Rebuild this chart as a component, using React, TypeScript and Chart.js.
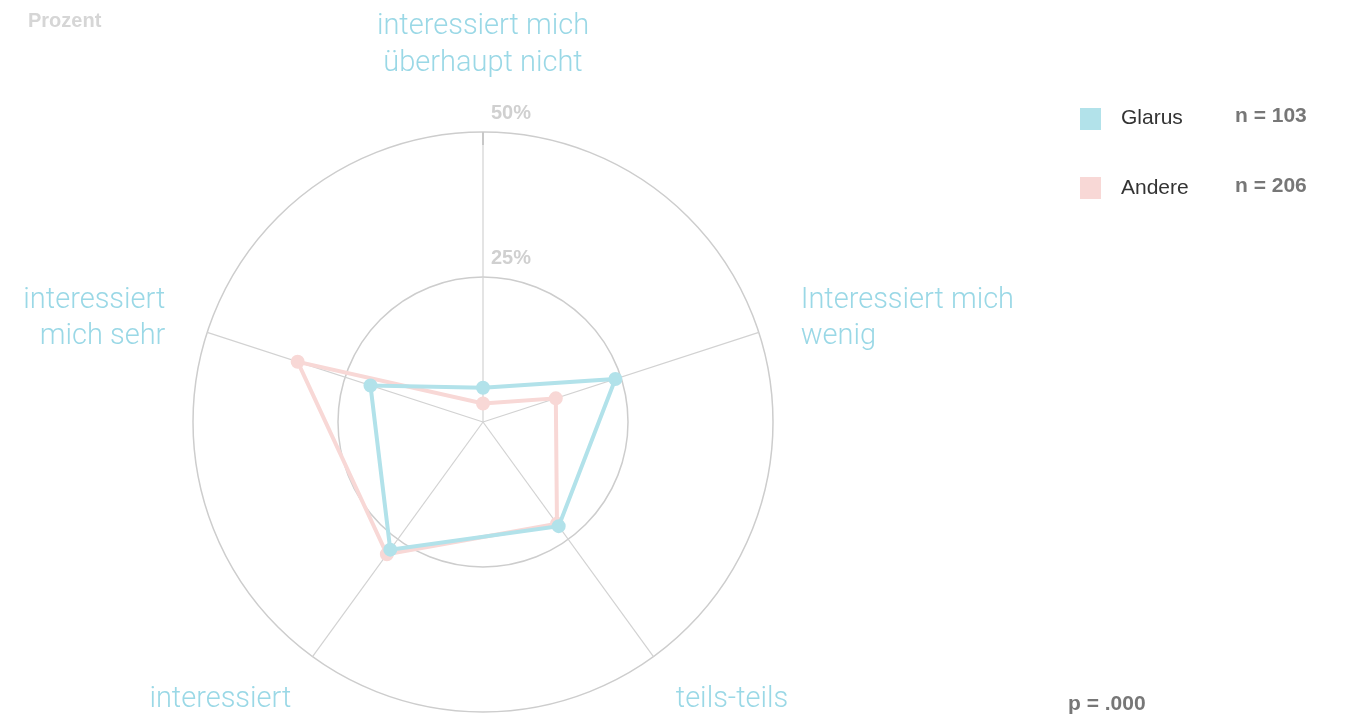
import React, { useEffect, useRef } from "react";
import { Chart, registerables } from "chart.js";

Chart.register(...registerables);

// ---- data ----
const categories: string[][] = [
  ["interessiert mich", "überhaupt nicht"],
  ["Interessiert mich", "wenig"],
  ["teils-teils"],
  ["interessiert"],
  ["interessiert", "mich sehr"],
];
const glarusValues = [5.9, 24.0, 22.2, 27.2, 20.4];
const andereValues = [3.2, 13.2, 21.7, 28.2, 33.6];
const seriesNames = ["Glarus", "Andere"];
const seriesN = ["n = 103", "n = 206"];
const tickValues = [25, 50];
const axisTitle = "Prozent";
const pValue = "p = .000";

// ---- styles ----
const BLUE = "#b2e2ea";
const PINK = "#f8d8d6";
const LABEL_COLOR = "#9ad8e6";
const LABEL_FONT = "300 29px Roboto, 'Liberation Sans', Arial, sans-serif";
const LABEL_LH = 36.5;
// per-label placement: extra distance from outer ring, first-baseline offset
const labelLayout = [
  { pad: 62, dy: -36 },
  { pad: 44, dy: -11 },
  { pad: 38, dy: 20 },
  { pad: 36, dy: 21 },
  { pad: 44, dy: -11 },
];

const labelPlugin = {
  id: "customLabels",
  afterDraw(chart: any) {
    const scale = chart.scales.r;
    const ctx = chart.ctx;
    ctx.save();
    // top tick mark
    ctx.strokeStyle = "#c8c8c8";
    ctx.lineWidth = 2;
    ctx.beginPath();
    ctx.moveTo(scale.xCenter, scale.yCenter - scale.drawingArea);
    ctx.lineTo(scale.xCenter, scale.yCenter - scale.drawingArea + 13);
    ctx.stroke();

    // tick labels
    ctx.font = "bold 20px 'Liberation Sans', Arial, sans-serif";
    ctx.fillStyle = "#d0d0d0";
    ctx.textAlign = "left";
    ctx.textBaseline = "alphabetic";
    tickValues.forEach((v) => {
      const r = scale.getDistanceFromCenterForValue(v);
      ctx.fillText(v + "%", scale.xCenter + 8, scale.yCenter - r - 13.5);
    });

    // point labels
    ctx.font = LABEL_FONT;
    ctx.fillStyle = LABEL_COLOR;
    categories.forEach((lines, i) => {
      const lay = labelLayout[i];
      const p = scale.getPointPosition(i, scale.drawingArea + lay.pad);
      let deg = Math.round(((p.angle + Math.PI / 2) * 180) / Math.PI) % 360;
      if (deg < 0) deg += 360;
      ctx.textAlign = deg === 0 || deg === 180 ? "center" : deg < 180 ? "left" : "right";
      lines.forEach((line, j) => {
        ctx.fillText(line, p.x, p.y + lay.dy + j * LABEL_LH);
      });
    });
    ctx.restore();
  },
};

export default function App() {
  const ref = useRef<HTMLCanvasElement | null>(null);
  useEffect(() => {
    if (!ref.current) return;
    const chart = new Chart(ref.current, {
      type: "radar",
      data: {
        labels: categories,
        datasets: [
          {
            label: seriesNames[0],
            data: glarusValues,
            borderColor: BLUE,
            backgroundColor: BLUE,
            pointBackgroundColor: BLUE,
            pointBorderColor: BLUE,
            borderWidth: 4,
            pointRadius: 5,
            fill: false,
          },
          {
            label: seriesNames[1],
            data: andereValues,
            borderColor: PINK,
            backgroundColor: PINK,
            pointBackgroundColor: PINK,
            pointBorderColor: PINK,
            borderWidth: 4,
            pointRadius: 5,
            fill: false,
          },
        ],
      },
      options: {
        responsive: false,
        animation: false,
        layout: { padding: { left: 193, top: 132, right: 578, bottom: 5 } },
        plugins: { legend: { display: false }, tooltip: { enabled: false } },
        scales: {
          r: {
            min: 0,
            max: 50,
            ticks: { stepSize: 25, display: false },
            grid: { circular: true, color: "#cdcdcd", lineWidth: 1.5 },
            angleLines: { color: "#d2d2d2", lineWidth: 1.2 },
            pointLabels: { display: false },
          },
        },
      },
      plugins: [labelPlugin],
    });
    return () => chart.destroy();
  }, []);

  const base: React.CSSProperties = {
    position: "absolute",
    fontFamily: "'Liberation Sans', Arial, sans-serif",
    fontSize: 21,
    lineHeight: "24px",
    whiteSpace: "nowrap",
  };

  return (
    <div style={{ position: "absolute", left: 0, top: 0, width: 1351, height: 718, background: "#fff", overflow: "hidden" }}>
      <canvas ref={ref} width={1351} height={718} style={{ position: "absolute", left: 0, top: 0 }} />
      <div style={{ ...base, left: 28, top: 8, fontSize: 20, fontWeight: "bold", color: "#d6d6d6" }}>{axisTitle}</div>
      <div style={{ position: "absolute", left: 1080, top: 108, width: 21, height: 22, background: BLUE }} />
      <div style={{ ...base, left: 1121, top: 105, color: "#333" }}>{seriesNames[0]}</div>
      <div style={{ ...base, left: 1235, top: 103, fontWeight: "bold", color: "#777" }}>{seriesN[0]}</div>
      <div style={{ position: "absolute", left: 1080, top: 177, width: 21, height: 22, background: PINK }} />
      <div style={{ ...base, left: 1121, top: 175, color: "#333" }}>{seriesNames[1]}</div>
      <div style={{ ...base, left: 1235, top: 173, fontWeight: "bold", color: "#777" }}>{seriesN[1]}</div>
      <div style={{ ...base, left: 1068, top: 691, fontWeight: "bold", color: "#777" }}>{pValue}</div>
    </div>
  );
}
